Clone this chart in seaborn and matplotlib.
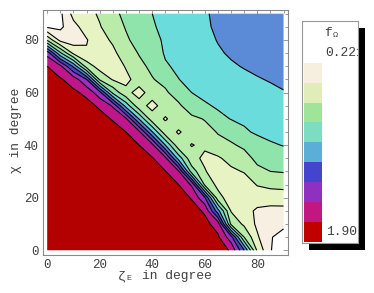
import numpy as np
import matplotlib
matplotlib.use("Agg")
import matplotlib.pyplot as plt
from matplotlib.patches import Rectangle
import seaborn as sns

# ---- data (grid of f_Omega, rows = chi, cols = zeta) ----
zeta_deg = [0, 5, 10, 15, 20, 25, 30, 35, 40, 45, 50, 55, 60, 65, 70, 75, 80, 85, 90]
chi_deg = [0, 5, 10, 15, 20, 25, 30, 35, 40, 45, 50, 55, 60, 65, 70, 75, 80, 85, 90]
f_omega = [
    [1.905, 1.90, 1.90, 1.90, 1.90, 1.90, 1.90, 1.90, 1.90, 1.90, 1.90, 1.89, 1.86, 1.785, 1.68, 1.26, 0.62, 0.36, 0.24],
    [1.90, 1.90, 1.90, 1.90, 1.90, 1.90, 1.90, 1.90, 1.90, 1.90, 1.89, 1.87, 1.80, 1.725, 1.46, 0.80, 0.52, 0.36, 0.30],
    [1.90, 1.90, 1.90, 1.90, 1.90, 1.90, 1.90, 1.90, 1.90, 1.89, 1.88, 1.81, 1.745, 1.635, 0.77, 0.62, 0.47, 0.40, 0.38],
    [1.90, 1.90, 1.90, 1.90, 1.90, 1.90, 1.90, 1.90, 1.89, 1.88, 1.82, 1.755, 1.68, 1.16, 0.64, 0.545, 0.48, 0.46, 0.46],
    [1.90, 1.90, 1.90, 1.90, 1.90, 1.90, 1.90, 1.89, 1.88, 1.83, 1.76, 1.69, 1.42, 0.707, 0.57, 0.515, 0.56, 0.565, 0.57],
    [1.90, 1.90, 1.90, 1.90, 1.90, 1.90, 1.89, 1.88, 1.83, 1.77, 1.70, 1.53, 0.77, 0.61, 0.555, 0.57, 0.66, 0.69, 0.70],
    [1.90, 1.90, 1.90, 1.90, 1.90, 1.89, 1.88, 1.82, 1.77, 1.705, 1.575, 0.88, 0.66, 0.58, 0.62, 0.66, 0.76, 0.80, 0.81],
    [1.90, 1.90, 1.90, 1.90, 1.89, 1.87, 1.82, 1.76, 1.71, 1.59, 1.04, 0.69, 0.625, 0.63, 0.70, 0.74, 0.84, 0.87, 0.89],
    [1.90, 1.90, 1.90, 1.89, 1.86, 1.81, 1.76, 1.70, 1.595, 1.10, 0.70, 0.645, 0.67, 0.75, 0.78, 0.83, 0.89, 0.935, 0.955],
    [1.90, 1.90, 1.89, 1.86, 1.80, 1.75, 1.70, 1.585, 1.11, 0.704, 0.64, 0.69, 0.74, 0.81, 0.86, 0.93, 0.97, 0.985, 1.00],
    [1.89, 1.89, 1.85, 1.80, 1.745, 1.69, 1.575, 1.09, 0.705, 0.64, 0.70, 0.76, 0.81, 0.91, 0.955, 0.975, 1.01, 1.025, 1.04],
    [1.88, 1.83, 1.79, 1.74, 1.68, 1.53, 1.04, 0.696, 0.615, 0.70, 0.77, 0.90, 0.93, 0.97, 1.005, 1.03, 1.045, 1.06, 1.07],
    [1.82, 1.77, 1.725, 1.67, 1.45, 0.91, 0.683, 0.61, 0.70, 0.775, 0.88, 0.95, 0.99, 1.015, 1.035, 1.055, 1.07, 1.085, 1.095],
    [1.76, 1.715, 1.64, 1.40, 0.773, 0.637, 0.62, 0.70, 0.79, 0.85, 0.947, 0.99, 1.015, 1.048, 1.065, 1.08, 1.095, 1.105, 1.12],
    [1.70, 1.59, 1.22, 0.73, 0.586, 0.58, 0.66, 0.76, 0.835, 0.935, 0.975, 1.015, 1.045, 1.07, 1.09, 1.105, 1.115, 1.125, 1.14],
    [1.50, 0.98, 0.617, 0.515, 0.545, 0.62, 0.72, 0.81, 0.87, 0.965, 1.00, 1.035, 1.065, 1.09, 1.11, 1.135, 1.145, 1.155, 1.16],
    [0.78, 0.45, 0.42, 0.49, 0.60, 0.67, 0.78, 0.85, 0.91, 0.97, 1.015, 1.049, 1.076, 1.104, 1.13, 1.152, 1.168, 1.176, 1.18],
    [0.33, 0.32, 0.45, 0.57, 0.64, 0.73, 0.81, 0.88, 0.935, 0.986, 1.027, 1.06, 1.085, 1.116, 1.14, 1.16, 1.176, 1.19, 1.19],
    [0.221, 0.32, 0.55, 0.60, 0.67, 0.76, 0.84, 0.90, 0.95, 0.99, 1.03, 1.06, 1.09, 1.12, 1.14, 1.16, 1.18, 1.19, 1.20],
]
contour_levels = [0.35, 0.50, 0.65, 0.80, 0.95, 1.10, 1.25, 1.40, 1.55, 1.70]
value_min, value_max = 0.221, 1.905
region_colors = ["#FFFFFF", "#F7F0E2", "#E8F3C4", "#B8ECA8", "#8FE4AC", "#6ADCDC",
                 "#5B8BD6", "#4646CC", "#9A30C8", "#C0168C", "#B30000"]
legend_colors = ["#F6EFDF", "#E0EDB8", "#A0E49A", "#7DDDC0", "#5AAED8",
                 "#4444CC", "#9030C0", "#C01880", "#C00000"]
legend_labels = ["0.221", "1.905"]
x_ticks = [0, 20, 40, 60, 80]
y_ticks = [0, 20, 40, 60, 80]
minor_ticks = [5, 10, 15, 25, 30, 35, 45, 50, 55, 65, 70, 75, 85, 90]

sns.set_style("white")
plt.rcParams["font.family"] = ["Liberation Mono", "DejaVu Sans Mono"]

W, H = 374, 293
fig = plt.figure(figsize=(W / 100, H / 100), dpi=100)
fig.patch.set_facecolor("white")


def fx(px):
    return px / W


def fy(py):
    return 1 - py / H


TXT = "#404040"
FRAME = "#8a8a8a"

# ---- main contour panel ----
ax = fig.add_axes([fx(43), fy(255), (288 - 43) / W, (255 - 9.5) / H])
Z = np.array(f_omega)
X, Y = np.meshgrid(zeta_deg, chi_deg)
bounds = [value_min - 0.01] + contour_levels + [value_max + 0.01]
palette = sns.color_palette(region_colors)
ax.contourf(X, Y, Z, levels=bounds, colors=palette, antialiased=True)
ax.contour(X, Y, Z, levels=contour_levels, colors="black", linewidths=0.8)
ax.set_xlim(-1.6, 91.7)
ax.set_ylim(-1.8, 91.6)
ax.set_xticks(x_ticks)
ax.set_yticks(y_ticks)
ax.set_xticks(minor_ticks, minor=True)
ax.set_yticks(minor_ticks, minor=True)
ax.tick_params(which="both", direction="in", color=FRAME, width=0.6,
               top=True, right=True, labeltop=False, labelright=False)
ax.tick_params(which="major", length=3.5, labelsize=9, labelcolor=TXT, pad=3)
ax.tick_params(which="minor", length=2)
for sp in ax.spines.values():
    sp.set_color(FRAME)
    sp.set_linewidth(0.8)

# axis labels (Mathematica style, Courier-like)
fig.text(fx(118), fy(276), "ζ", fontsize=9.4, color=TXT, ha="left", va="center")
fig.text(fx(126), fy(279), "E", fontsize=6, color=TXT, ha="left", va="center")
fig.text(fx(141.7), fy(276), "in degree", fontsize=9.4, color=TXT, ha="left", va="center")
fig.text(fx(15.8), fy(130), "χ in degree", fontsize=9.4, color=TXT, rotation=90,
         ha="center", va="center")

# ---- legend with shadow ----
lx0, ly0, lw_, lh_ = 302, 21, 56, 222
shadow = fig.add_axes([fx(lx0 + 7), fy(ly0 + 7 + lh_), lw_ / W, lh_ / H])
shadow.set_facecolor("black")
shadow.set_xticks([])
shadow.set_yticks([])
for sp in shadow.spines.values():
    sp.set_visible(False)

lg = fig.add_axes([fx(lx0), fy(ly0 + lh_), lw_ / W, lh_ / H])
lg.set_facecolor("white")
lg.set_xlim(0, lw_)
lg.set_ylim(lh_, 0)
lg.set_xticks([])
lg.set_yticks([])
for sp in lg.spines.values():
    sp.set_color("#999999")
    sp.set_linewidth(0.8)
sw_top, sw_h = 41.7, 19.9
for i, c in enumerate(legend_colors):
    lg.add_patch(Rectangle((2, sw_top + i * sw_h), 17.7, sw_h, facecolor=c, edgecolor="none"))
lg.text(22.0, 11.7, "f", fontsize=9.4, color=TXT, ha="left", va="center")
lg.text(30.5, 14.5, "Ω", fontsize=6, color=TXT, ha="left", va="center")
lg.text(23.7, 31.7, legend_labels[0], fontsize=9.4, color=TXT, ha="left", va="center", clip_on=True)
lg.text(23.7, 210.7, legend_labels[1], fontsize=9.4, color=TXT, ha="left", va="center", clip_on=True)

fig.savefig("out.png", dpi=100)
